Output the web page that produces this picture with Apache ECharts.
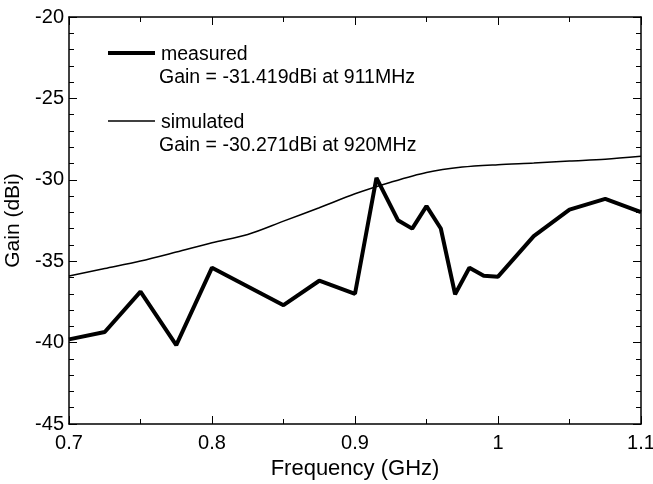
<!DOCTYPE html>
<html>
<head>
<meta charset="utf-8">
<script src="https://cdn.jsdelivr.net/npm/echarts@6/dist/echarts.min.js"></script>
<style>
    html, body { margin: 0; padding: 0; background: #fff; }
    #chart { width: 653px; height: 484px; }
</style>
</head>
<body>
<div id="chart"></div>
<script>
// measured curve
var measFreq = [0.7, 0.725, 0.75, 0.775, 0.8, 0.825, 0.85, 0.875, 0.9, 0.915, 0.93, 0.94, 0.95, 0.96, 0.97, 0.98, 0.99, 1.0, 1.025, 1.05, 1.075, 1.1];
var measGain = [-39.8, -39.35, -36.87, -40.16, -35.4, -36.55, -37.7, -36.2, -37.0, -29.88, -32.48, -33.0, -31.62, -32.99, -37.03, -35.4, -35.9, -35.95, -33.46, -31.83, -31.17, -31.99];
// simulated curve
var simFreq = [0.7, 0.725, 0.75, 0.775, 0.8, 0.825, 0.85, 0.875, 0.9, 0.925, 0.95, 0.975, 1.0, 1.025, 1.05, 1.075, 1.1];
var simGain = [-35.91, -35.45, -34.99, -34.44, -33.87, -33.36, -32.54, -31.72, -30.86, -30.15, -29.55, -29.22, -29.07, -28.97, -28.85, -28.74, -28.56];
var legendText = ["measured", "Gain = -31.419dBi at 911MHz", "simulated", "Gain = -30.271dBi at 920MHz"];

var font = "Liberation Sans, Arial, sans-serif";

var pairs = function (xs, ys) {
    var out = [];
    for (var i = 0; i < xs.length; i++) {
        out.push([xs[i], ys[i]]);
    }
    return out;
};

var chart = echarts.init(document.getElementById("chart"));

var xBase = {
    type: "value", min: 0.7, max: 1.1, interval: 0.1,
    axisLine: {lineStyle: {color: "#000", width: 1.5}},
    axisTick: {inside: true, length: 8, lineStyle: {color: "#000"}},
    minorTick: {show: true, splitNumber: 2, length: 5, lineStyle: {color: "#000"}},
    splitLine: {show: false}
};
var yBase = {
    type: "value", min: -45, max: -20, interval: 5,
    axisLine: {lineStyle: {color: "#000", width: 1.5}},
    axisTick: {inside: true, length: 8, lineStyle: {color: "#000"}},
    minorTick: {show: true, splitNumber: 5, length: 5, lineStyle: {color: "#000"}},
    splitLine: {show: false}
};

var option = {
    animation: false,
    backgroundColor: "#fff",
    grid: {left: 69, top: 17, width: 572, height: 407, containLabel: false, outerBoundsMode: "none"},
    xAxis: [
        Object.assign({}, xBase, {
            position: "bottom",
            name: "Frequency (GHz)", nameLocation: "middle", nameGap: 34,
            nameTextStyle: {color: "#000", fontSize: 22, fontFamily: font},
            axisLabel: {
                color: "#000", fontSize: 20, fontFamily: font, margin: 9,
                formatter: function (v) { return String(+v.toFixed(2)); }
            }
        }),
        Object.assign({}, xBase, {position: "top", axisLabel: {show: false}})
    ],
    yAxis: [
        Object.assign({}, yBase, {
            position: "left",
            name: "Gain (dBi)", nameLocation: "middle", nameGap: 37,
            nameTextStyle: {color: "#000", fontSize: 21, fontFamily: font},
            axisLabel: {color: "#000", fontSize: 20, fontFamily: font, margin: 5}
        }),
        Object.assign({}, yBase, {position: "right", axisLabel: {show: false}})
    ],
    series: [
        {
            name: "measured", type: "line", data: pairs(measFreq, measGain),
            showSymbol: false, lineStyle: {color: "#000", width: 4}, z: 3
        },
        {
            name: "simulated", type: "line", data: pairs(simFreq, simGain), smooth: 0.3,
            showSymbol: false, lineStyle: {color: "#000", width: 1.5}, z: 2
        }
    ],
    graphic: [
        {type: "line", shape: {x1: 108, y1: 53, x2: 155, y2: 53}, style: {stroke: "#000", lineWidth: 4}},
        {type: "text", left: 161, top: 45, style: {text: legendText[0], font: "19.5px " + font, fill: "#000"}},
        {type: "text", left: 159, top: 68, style: {text: legendText[1], font: "19.5px " + font, fill: "#000"}},
        {type: "line", shape: {x1: 108, y1: 121, x2: 155, y2: 121}, style: {stroke: "#000", lineWidth: 1.5}},
        {type: "text", left: 161, top: 113, style: {text: legendText[2], font: "19.5px " + font, fill: "#000"}},
        {type: "text", left: 159, top: 136, style: {text: legendText[3], font: "19.5px " + font, fill: "#000"}}
    ]
};
chart.setOption(option);
</script>
</body>
</html>
